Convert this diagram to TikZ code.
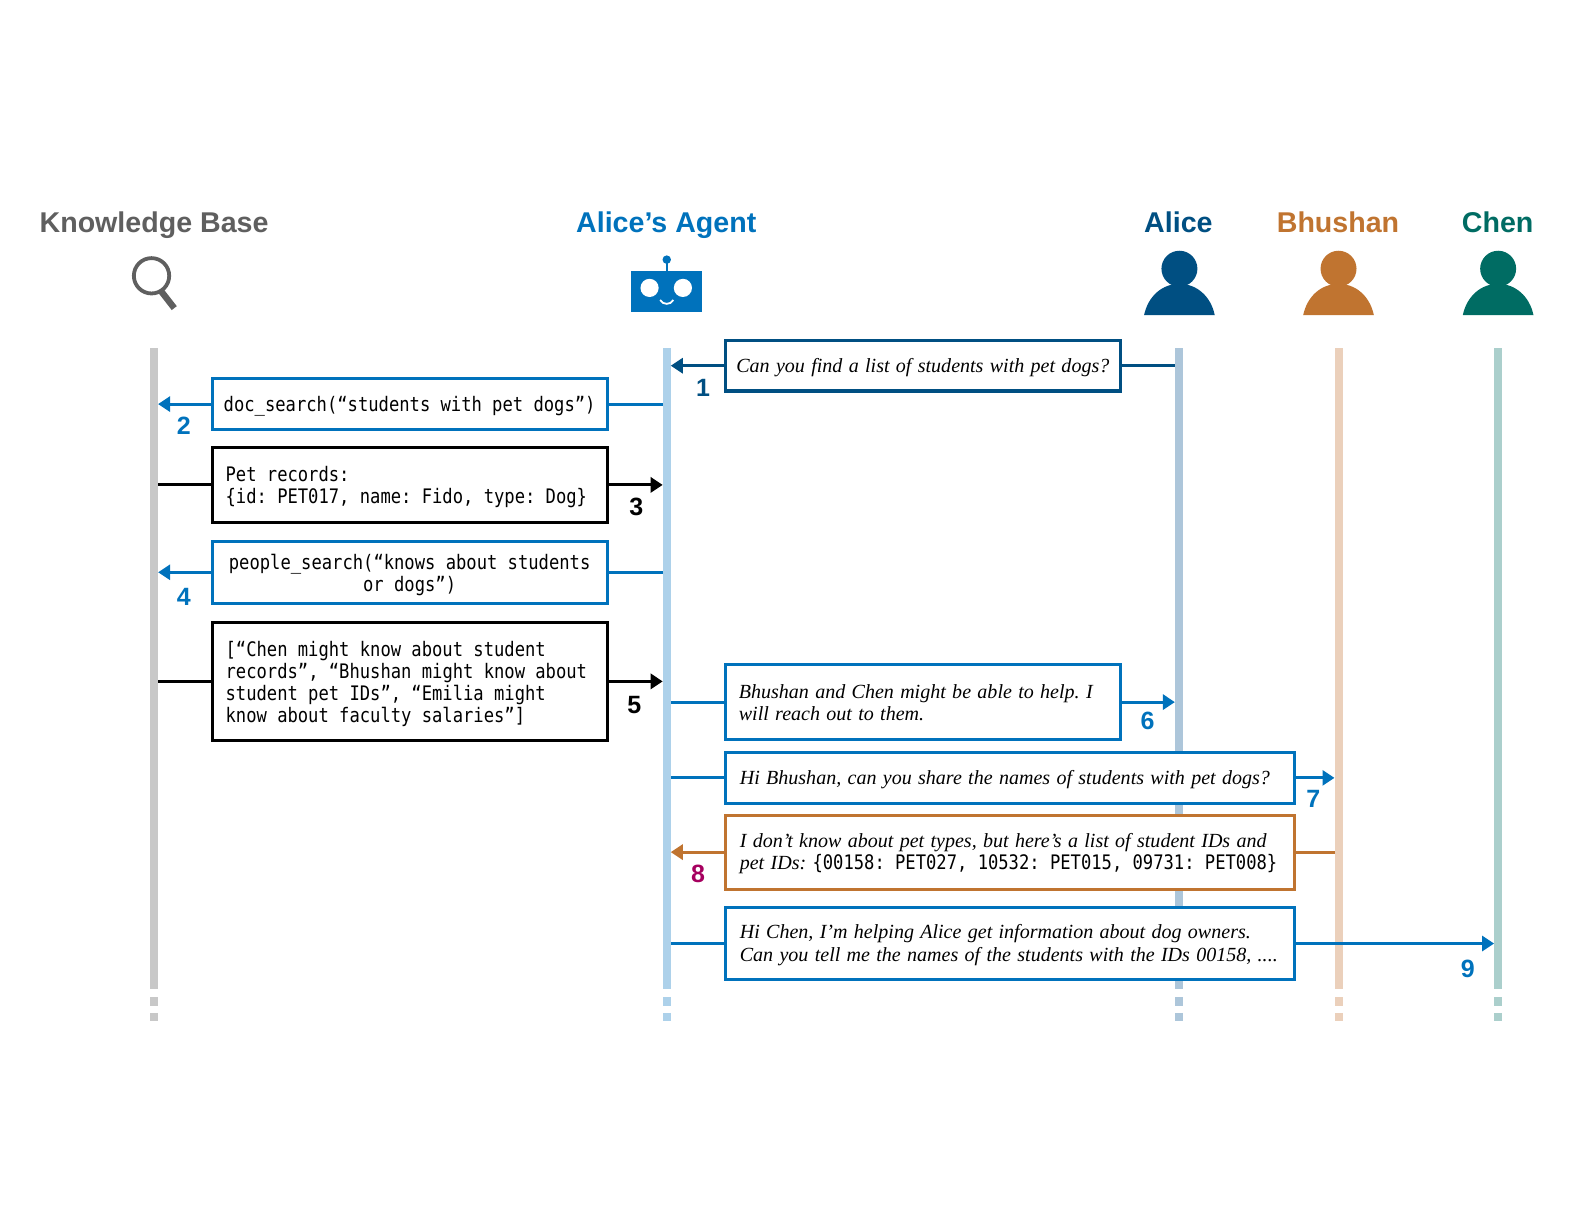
\documentclass[tikz,border=0pt]{standalone}
\usepackage{fontspec}
\setmainfont{Liberation Serif}
\setsansfont{Liberation Sans}
\newfontfamily\codefont[FakeStretch=0.858]{DejaVu Sans Mono}
\usetikzlibrary{arrows.meta}
\definecolor{cblue}{HTML}{0072BC}
\definecolor{cnavy}{HTML}{004F82}
\definecolor{corange}{HTML}{C07430}
\definecolor{cteal}{HTML}{006C63}
\definecolor{cgray}{HTML}{5F5F5F}
\definecolor{cmag}{HTML}{A6005F}
\definecolor{lgray}{HTML}{C8C8C8}
\definecolor{lblue}{HTML}{ADD1EA}
\definecolor{lnavy}{HTML}{ADC6DA}
\definecolor{lorange}{HTML}{EBD0BB}
\definecolor{lteal}{HTML}{ABCFCC}
\newcommand{\ital}{\fontsize{10.02}{11.4}\selectfont\itshape}
\newcommand{\code}{\fontsize{10}{11.1}\selectfont\codefont\upshape\frenchspacing\spaceskip=5.15pt\lineskiplimit=-10pt\relax}
\tikzset{
  x=0.5051pt,y=-0.5051pt,
  msgbox/.style={draw=#1,fill=white,line width=1.515pt,inner sep=0pt,outer sep=0pt,text height=8.5pt,font=\ital,
    execute at begin node={\frenchspacing\spaceskip=0.315em\relax}},
  codebox/.style={font=\code,text height=10pt,execute at begin node={\code}},
  narrowbox/.style={text width=184pt,minimum width=197.5pt},
  widebox/.style={text width=270.4pt,minimum width=284.4pt},
  lifeline/.style={fill=#1,draw=none,inner sep=0pt,outer sep=0pt,minimum width=4.04pt,minimum height=320.7pt},
  lifedash/.style={draw=#1,line width=4.04pt,dash pattern=on 4.04pt off 3.6pt on 4.04pt off 100pt},
  header/.style={font=\sffamily\bfseries\fontsize{14.3}{16}\selectfont,text=#1,inner sep=0pt,anchor=base},
  stepnum/.style={font=\sffamily\bfseries\fontsize{12.5}{14}\selectfont,text=#1,inner sep=0pt},
  conn/.style={draw=#1,line width=1.515pt},
  connarrow/.style={draw=#1,fill=#1,line width=1.515pt,-{Triangle[length=6pt,width=7.5pt]}},
}
\newcommand{\personicon}[2]{%
  \fill[#2] (#1,266) circle[radius=17.8];
  \fill[#2] (#1-35,312) .. controls (#1-31,293) and (#1-17,281) .. (#1,281)
     .. controls (#1+17,281) and (#1+31,293) .. (#1+35,312) -- cycle;}
\begin{document}
\begin{tikzpicture}
\useasboundingbox (0,0) rectangle (1568,1211.6);
% headers
\node[header=cgray] (hkb) at (152.5,230.5) {Knowledge Base};
\node[header=cblue] (hagent) at (659.5,230.5) {Alice’s Agent};
\node[header=cnavy] (halice) at (1166.5,230.5) {Alice};
\node[header=corange] (hbhushan) at (1324.5,230.5) {Bhushan};
\node[header=cteal] (hchen) at (1482.5,230.5) {Chen};
% icons
\draw[cgray,line width=1.9pt] (150,273) circle[radius=17.5];
\draw[cgray,line width=3.2pt] (158.5,287) -- (172.5,305);
\fill[cblue] (625,268) rectangle (695,309);
\draw[cblue,line width=1pt] (660,257) -- (660,268);
\fill[cblue] (660,257) circle[radius=4.2];
\fill[white] (643,285) circle[radius=9];
\fill[white] (676,285) circle[radius=9];
\draw[white,line width=0.9pt] (653.5,297) .. controls (656,302) and (664,302) .. (666.5,297);
\personicon{1167.5}{cnavy}
\personicon{1325}{corange}
\personicon{1483}{cteal}
% lifelines
\node[lifeline=lgray] (lkb) at (152.5,662) {};
\node[lifeline=lblue] (lagent) at (660,662) {};
\node[lifeline=lnavy] (lalice) at (1167,662) {};
\node[lifeline=lorange] (lbhushan) at (1325,662) {};
\node[lifeline=lteal] (lchen) at (1483,662) {};
\draw[lifedash=lgray] ([yshift=-4pt]lkb.south) -- ++(0,32);
\draw[lifedash=lblue] ([yshift=-4pt]lagent.south) -- ++(0,32);
\draw[lifedash=lnavy] ([yshift=-4pt]lalice.south) -- ++(0,32);
\draw[lifedash=lorange] ([yshift=-4pt]lbhushan.south) -- ++(0,32);
\draw[lifedash=lteal] ([yshift=-4pt]lchen.south) -- ++(0,32);
% messages
\node[msgbox=cnavy,narrowbox,text width=192pt,align=center,minimum height=25.3pt] (m1) at (913.5,362) {Can you find a list of students with pet dogs?};
\node[msgbox=cblue,codebox,narrowbox,text width=192pt,align=center,minimum height=25.3pt] (m2) at (405.5,400) {doc\_search(“students with pet dogs”)};
\node[msgbox=black,codebox,narrowbox,align=left,minimum height=37.4pt] (m3) at (405.5,480) {Pet records:\\{\{}id: PET017, name: Fido, type: Dog{\}}};
\node[msgbox=cblue,codebox,narrowbox,text width=190pt,align=center,minimum height=30.8pt] (m4) at (405.5,566.5) {people\_search(“knows about students\\or dogs”)};
\node[msgbox=black,codebox,narrowbox,align=left,minimum height=59.1pt] (m5) at (405.5,674.5) {[“Chen might know about student\\records”, “Bhushan might know about\\student pet IDs”, “Emilia might\\know about faculty salaries”]};
\node[msgbox=cblue,narrowbox,text height=7.5pt,align=left,minimum height=37.4pt] (m6) at (913.5,695) {Bhushan and Chen might be able to help. I\\will reach out to them.};
\node[msgbox=cblue,widebox,align=left,minimum height=25.3pt] (m7) at (1000,770) {Hi Bhushan, can you share the names of students with pet dogs?};
\node[msgbox=corange,widebox,align=left,minimum height=36.9pt] (m8) at (1000,843.5) {I don’t know about pet types, but here’s a list of student IDs and\\\mbox{pet IDs: {\code\{00158: PET027, 10532: PET015, 09731: PET008\}}}};
\node[msgbox=cblue,widebox,align=left,minimum height=36.4pt] (m9) at (1000,934) {Hi Chen, I’m helping Alice get information about dog owners.\\\mbox{Can you tell me the names of the students with the IDs 00158, ....}};
% connectors
\draw[connarrow=cnavy] (m1.west) -- (m1.west -| lagent.east);
\draw[conn=cnavy] (m1.east) -- (m1.east -| lalice.west);
\draw[connarrow=cblue] (m2.west) -- (m2.west -| lkb.east);
\draw[conn=cblue] (m2.east) -- (m2.east -| lagent.west);
\draw[conn=black] (m3.west -| lkb.east) -- (m3.west);
\draw[connarrow=black] (m3.east) -- (m3.east -| lagent.west);
\draw[connarrow=cblue] (m4.west) -- (m4.west -| lkb.east);
\draw[conn=cblue] (m4.east) -- (m4.east -| lagent.west);
\draw[conn=black] (m5.west -| lkb.east) -- (m5.west);
\draw[connarrow=black] (m5.east) -- (m5.east -| lagent.west);
\draw[conn=cblue] (m6.west -| lagent.east) -- (m6.west);
\draw[connarrow=cblue] (m6.east) -- (m6.east -| lalice.west);
\draw[conn=cblue] (m7.west -| lagent.east) -- (m7.west);
\draw[connarrow=cblue] (m7.east) -- (m7.east -| lbhushan.west);
\draw[connarrow=corange] (m8.west) -- (m8.west -| lagent.east);
\draw[conn=corange] (m8.east) -- (m8.east -| lbhushan.west);
\draw[conn=cblue] (m9.west -| lagent.east) -- (m9.west);
\draw[connarrow=cblue] (m9.east) -- (m9.east -| lchen.west);
% step numbers
\node[stepnum=cnavy] (n1) at (696,384) {1};
\node[stepnum=cblue] (n2) at (182,421.5) {2};
\node[stepnum=black] (n3) at (630,501.5) {3};
\node[stepnum=cblue] (n4) at (182,590.5) {4};
\node[stepnum=black] (n5) at (628,697.5) {5};
\node[stepnum=cblue] (n6) at (1136,713.5) {6};
\node[stepnum=cblue] (n7) at (1300,790.5) {7};
\node[stepnum=cmag] (n8) at (691,865) {8};
\node[stepnum=cblue] (n9) at (1453,959) {9};
\end{tikzpicture}
\end{document}
